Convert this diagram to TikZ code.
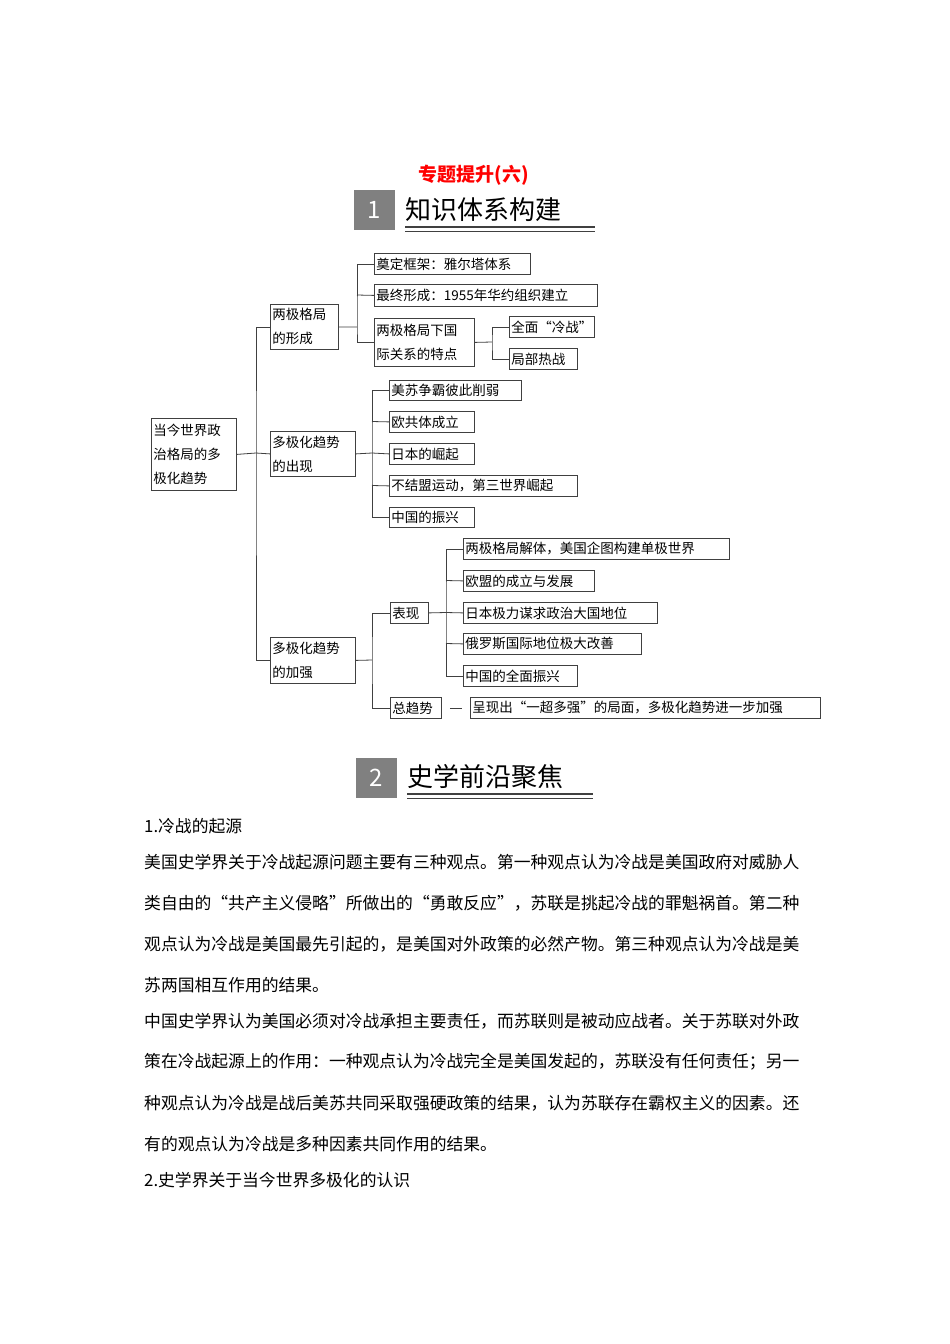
\documentclass[tikz,border=0pt]{standalone}
\usepackage{fontspec}
\setmainfont{Noto Sans CJK SC}
\begin{document}
\begin{tikzpicture}[x=1pt,y=-1pt,
  bx/.style={draw=black!75,line width=0.8pt,inner xsep=2pt,inner ysep=0pt,anchor=north west,font=\fontsize{13.5}{24}\selectfont,align=left},
  ln/.style={draw=black!75,line width=0.8pt},
  body/.style={anchor=west,inner sep=0pt,font=\fontsize{16.8}{16.8}\selectfont},
  numbox/.style={fill=black!50,minimum width=41pt,minimum height=40pt,inner sep=0pt,text=white,font=\fontsize{24}{24}\selectfont},
  head/.style={anchor=west,inner sep=0pt,font=\fontsize{26}{26}\selectfont}]
\useasboundingbox (0,0) rectangle (950,1344);
\fill[white] (0,0) rectangle (950,1344);
% header
\node[text=red,font=\fontsize{19}{19}\selectfont\bfseries] (title) at (474,175) {专题提升(六)};
\node[numbox] (n1) at (374.5,210) {1};
\node[head] (h1) at (405,210) {知识体系构建};
\draw[ln,line width=1.2pt] (405,227) -- (595,227);
\draw[ln] (405,231) -- (595,231);
% tree boxes
\newcommand{\tb}[7]{\node[bx,minimum width=#4pt,minimum height=#5pt,text width=#6pt] (#1) at (#2,#3) {#7};}
\tb{root}{151}{418}{85}{72}{81}{当今世界政\\治格局的多\\极化趋势}
\tb{A}{270}{304}{68}{45}{64}{两极格局\\的形成}
\tb{Aa}{374}{253}{156}{21}{152}{奠定框架：雅尔塔体系}
\tb{Ab}{374}{284}{223}{22}{219}{最终形成：1955年华约组织建立}
\tb{Ac}{374}{318}{100}{48}{96}{两极格局下国\\际关系的特点}
\tb{Aca}{509}{316}{85}{21}{81}{全面“冷战”}
\tb{Acb}{509}{348}{68}{21}{64}{局部热战}
\tb{B}{270}{431}{85}{45}{81}{多极化趋势\\的出现}
\tb{Ba}{389}{380}{132}{20}{128}{美苏争霸彼此削弱}
\tb{Bb}{389}{411}{85}{21}{81}{欧共体成立}
\tb{Bc}{389}{443}{85}{21}{81}{日本的崛起}
\tb{Bd}{389}{475}{188}{21}{184}{不结盟运动，第三世界崛起}
\tb{Be}{389}{507}{85}{20}{81}{中国的振兴}
\tb{C}{270}{637}{85}{46}{81}{多极化趋势\\的加强}
\tb{Ca}{390}{602}{38}{21}{34}{表现}
\tb{Caa}{463}{538}{266}{21}{262}{两极格局解体，美国企图构建单极世界}
\tb{Cab}{463}{570}{131}{21}{127}{欧盟的成立与发展}
\tb{Cac}{463}{602}{194}{21}{190}{日本极力谋求政治大国地位}
\tb{Cad}{463}{633}{178}{21}{174}{俄罗斯国际地位极大改善}
\tb{Cae}{463}{665}{114}{21}{110}{中国的全面振兴}
\tb{Cb}{390}{697}{51}{21}{47}{总趋势}
\tb{Cba}{470}{697}{350}{21}{346}{呈现出“一超多强”的局面，多极化趋势进一步加强}
% connectors
\draw[ln] (root.east) -- (256,453);
\draw[ln] (A.west) -| (256,453) |- (C.west);
\draw[ln] (B.west) -- (256,453);
\draw[ln] (A.east) -- (357,327);
\draw[ln] (Aa.west) -| (357,327) |- (Ac.west);
\draw[ln] (Ab.west) -- (357,295);
\draw[ln] (Ac.east) -- (492,342);
\draw[ln] (Aca.west) -| (492,342) |- (Acb.west);
\draw[ln] (B.east) -- (372,453);
\draw[ln] (Ba.west) -| (372,453) |- (Be.west);
\draw[ln] (Bb.west) -- (372,421.5);
\draw[ln] (Bc.west) -- (372,453);
\draw[ln] (Bd.west) -- (372,485.5);
\draw[ln] (C.east) -- (372,660);
\draw[ln] (Ca.west) -| (372,660) |- (Cb.west);
\draw[ln] (Ca.east) -- (446,612.5);
\draw[ln] (Caa.west) -| (446,612.5) |- (Cae.west);
\draw[ln] (Cab.west) -- (446,580.5);
\draw[ln] (Cac.west) -- (446,612.5);
\draw[ln] (Cad.west) -- (446,643.5);
\draw[ln,shorten <=8pt,shorten >=8pt] (Cb.east) -- (Cba.west);
% section 2
\node[numbox] (n2) at (376.5,777.5) {2};
\node[head] (h2) at (407,777) {史学前沿聚焦};
\draw[ln,line width=1.2pt] (407,794) -- (593,794);
\draw[ln] (407,798) -- (593,798);
% body
\node[body] (p0) at (144,826) {1.冷战的起源};
\node[body] (p1) at (144,862) {美国史学界关于冷战起源问题主要有三种观点。第一种观点认为冷战是美国政府对威胁人};
\node[body] (p2) at (144,903) {类自由的“共产主义侵略”所做出的“勇敢反应”，苏联是挑起冷战的罪魁祸首。第二种};
\node[body] (p3) at (144,944) {观点认为冷战是美国最先引起的，是美国对外政策的必然产物。第三种观点认为冷战是美};
\node[body] (p4) at (144,985) {苏两国相互作用的结果。};
\node[body] (p5) at (144,1021) {中国史学界认为美国必须对冷战承担主要责任，而苏联则是被动应战者。关于苏联对外政};
\node[body] (p6) at (144,1062) {策在冷战起源上的作用：一种观点认为冷战完全是美国发起的，苏联没有任何责任；另一};
\node[body] (p7) at (144,1103) {种观点认为冷战是战后美苏共同采取强硬政策的结果，认为苏联存在霸权主义的因素。还};
\node[body] (p8) at (144,1144) {有的观点认为冷战是多种因素共同作用的结果。};
\node[body] (p9) at (144,1180) {2.史学界关于当今世界多极化的认识};
\end{tikzpicture}
\end{document}
